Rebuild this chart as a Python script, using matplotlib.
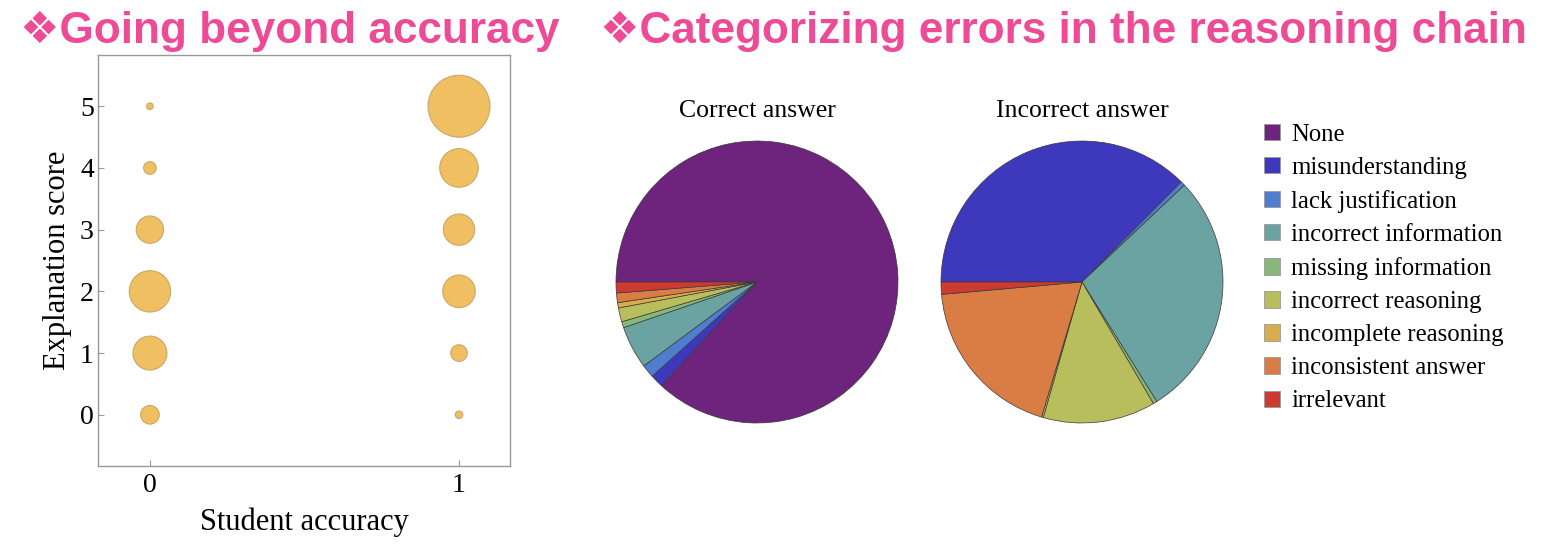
import matplotlib
matplotlib.use("Agg")
import matplotlib.pyplot as plt
from matplotlib.patches import Patch
import numpy as np

# ---------------- data ----------------
accuracy = [0, 0, 0, 0, 0, 0, 1, 1, 1, 1, 1, 1]
expl_score = [0, 1, 2, 3, 4, 5, 0, 1, 2, 3, 4, 5]
counts = [87, 289, 428, 187, 40, 11, 14, 69, 266, 246, 372, 961]

categories = ["None", "misunderstanding", "lack justification",
              "incorrect information", "missing information",
              "incorrect reasoning", "incomplete reasoning",
              "inconsistent answer", "irrelevant"]
correct_pct = [86.9, 1.5, 1.5, 4.9, 0.7, 1.6, 0.6, 1.1, 1.25]
incorrect_pct = [0.0, 37.5, 0.5, 28.2, 0.45, 12.9, 0.2, 19.0, 1.4]
cat_colors = ["#6E237C", "#3E38BC", "#4F7ECF", "#6AA3A2", "#88B879",
              "#B8BE5C", "#D8AD4B", "#D97D44", "#CC3A31"]

titles = ["Correct answer", "Incorrect answer"]
x_ticks = [0, 1]
y_ticks = [0, 1, 2, 3, 4, 5]

PINK = "#EE4B96"
W, H = 1550, 544
fig = plt.figure(figsize=(W / 100, H / 100), dpi=100)

serif = "Liberation Serif"
title_family = ["Liberation Sans", "DejaVu Sans"]

# ---------------- bubble chart ----------------
ax = fig.add_axes([98 / W, 1 - 466 / H, (510 - 98) / W, (466 - 55) / H])
ax.scatter(accuracy, expl_score, s=np.array(counts) * 2.07,
           color="#F0BF62", edgecolor="#C8A86A", linewidth=0.8, zorder=3)
ax.set_xlim(-0.168, 1.165)
ax.set_ylim(-0.83, 5.83)
ax.set_xticks(x_ticks)
ax.set_yticks(y_ticks)
ax.set_xticklabels([str(v) for v in x_ticks], fontfamily=serif, fontsize=20)
ax.set_yticklabels([str(v) for v in y_ticks], fontfamily=serif, fontsize=20)
ax.tick_params(direction="in", length=4, color="#999999")
ax.tick_params(axis="y", pad=3)
ax.tick_params(axis="x", pad=5)
for sp in ax.spines.values():
    sp.set_color("#999999")
    sp.set_linewidth(1.0)
ax.set_xlabel("Student accuracy", fontfamily=serif, fontsize=22, labelpad=7)
ax.set_ylabel("Explanation score", fontfamily=serif, fontsize=22, labelpad=6)

# ---------------- pies ----------------
centers = [757, 1082]
R = 141
for cx, vals, ttl in zip(centers, [correct_pct, incorrect_pct], titles):
    pax = fig.add_axes([(cx - R) / W, 1 - (282 + R) / H, 2 * R / W, 2 * R / H])
    pax.pie(vals, colors=cat_colors, startangle=180, counterclock=False,
            radius=1.0, normalize=True,
            wedgeprops=dict(edgecolor="#3a3a3a", linewidth=0.5))
    pax.set_xlim(-1.0, 1.0)
    pax.set_ylim(-1.0, 1.0)
    pax.set_aspect("auto")
    pax.axis("off")
    fig.text(cx / W, 1 - 111 / H, ttl, ha="center", va="center",
             fontfamily=serif, fontsize=18.5)

handles = [Patch(facecolor=c, edgecolor="#999999", linewidth=0.6) for c in cat_colors]
fig.legend(handles, categories, loc="center left",
           bbox_to_anchor=(1264 / W, 1 - 268 / H), frameon=False,
           prop=dict(family=serif, size=17.8), handlelength=0.65,
           handleheight=0.65, handletextpad=0.45, labelspacing=0.45,
           borderpad=0, borderaxespad=0)

# ---------------- headings ----------------
fig.text(20 / W, 1 - 31 / H, "❖Going beyond accuracy", ha="left", va="center",
         fontfamily=title_family, fontweight="bold", fontsize=31.8, color=PINK)
fig.text(600 / W, 1 - 31 / H, "❖Categorizing errors in the reasoning chain",
         ha="left", va="center", fontfamily=title_family, fontweight="bold",
         fontsize=31.8, color=PINK)

fig.savefig("out.png", dpi=100)
